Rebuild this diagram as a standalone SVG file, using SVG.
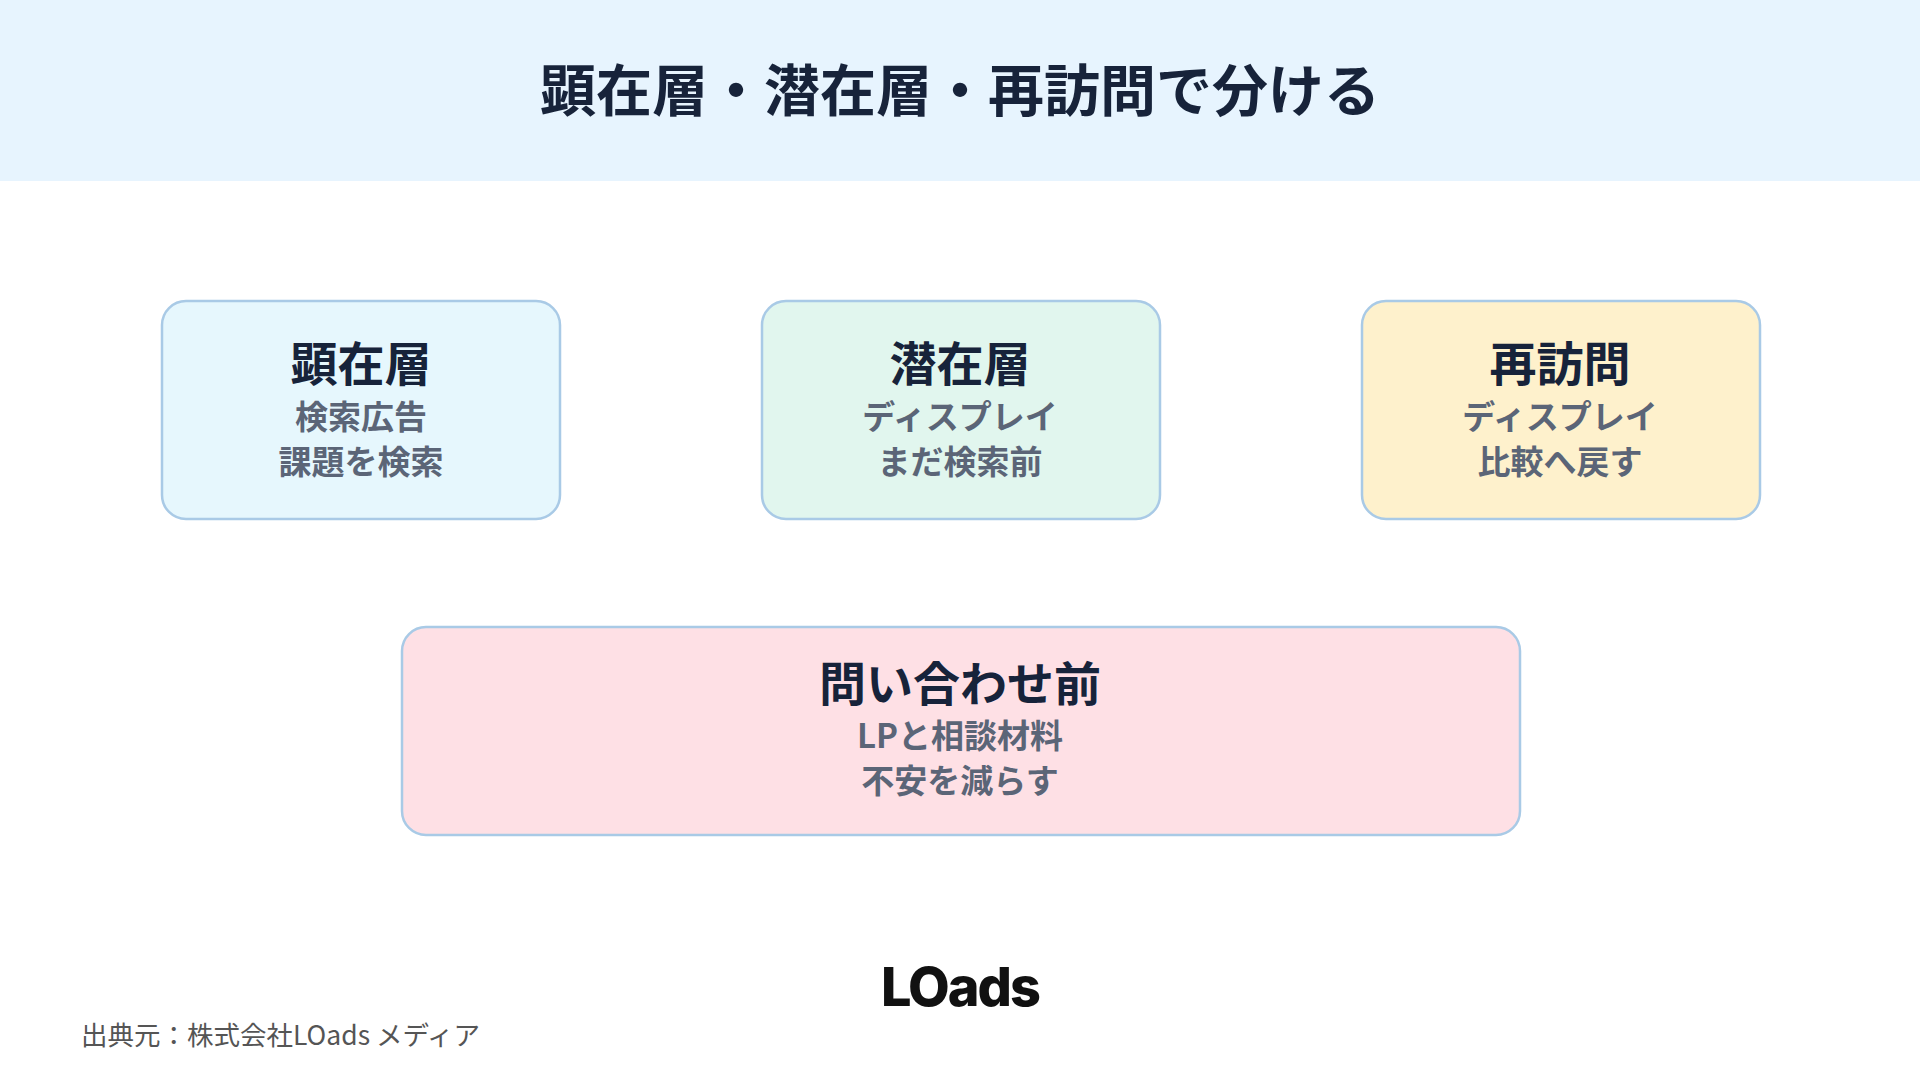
<svg xmlns="http://www.w3.org/2000/svg" width="1920" height="1080" viewBox="0 0 1920 1080">
<style>
.t{font-family:"Noto Sans CJK JP","Noto Sans",sans-serif;font-weight:700;text-anchor:middle}
.h{fill:#17233A;font-size:47px}
.s{fill:#5B6577;font-size:33px}
.box{stroke:#A9CAE6;stroke-width:2.5}
</style>
<rect width="1920" height="1080" fill="#FFFFFF"/>
<rect width="1920" height="181" fill="#E7F4FE"/>
<text class="t" x="960" y="111" fill="#17233A" font-size="56">顕在層・潜在層・再訪問で分ける</text>
<g id="node-kenzai">
<rect class="box" x="162" y="301" width="398" height="218" rx="24" fill="#E6F7FD"/>
<text class="t h" x="361" y="381">顕在層</text>
<text class="t s" x="361" y="429">検索広告</text>
<text class="t s" x="361" y="474">課題を検索</text>
</g>
<g id="node-senzai">
<rect class="box" x="762" y="301" width="398" height="218" rx="24" fill="#E1F6EE"/>
<text class="t h" x="960" y="381">潜在層</text>
<text class="t s" x="960" y="429">ディスプレイ</text>
<text class="t s" x="960" y="474">まだ検索前</text>
</g>
<g id="node-saihoumon">
<rect class="box" x="1362" y="301" width="398" height="218" rx="24" fill="#FEF1CC"/>
<text class="t h" x="1560" y="381">再訪問</text>
<text class="t s" x="1560" y="429">ディスプレイ</text>
<text class="t s" x="1560" y="474">比較へ戻す</text>
</g>
<g id="node-toiawase">
<rect class="box" x="402" y="627" width="1118" height="208" rx="24" fill="#FEE0E5"/>
<text class="t h" x="960" y="701">問い合わせ前</text>
<text class="t s" x="960" y="748">LPと相談材料</text>
<text class="t s" x="960" y="793">不安を減らす</text>
</g>
<g id="connectors"></g>
<text x="960" y="1006" font-family="Inter,'Liberation Sans',sans-serif" font-weight="800" font-size="54" fill="#111" text-anchor="middle" letter-spacing="-2">LOads</text>
<text x="81" y="1045" font-family="'Noto Sans CJK JP',sans-serif" font-size="26.5" fill="#555">出典元：株式会社LOads メディア</text>
</svg>
